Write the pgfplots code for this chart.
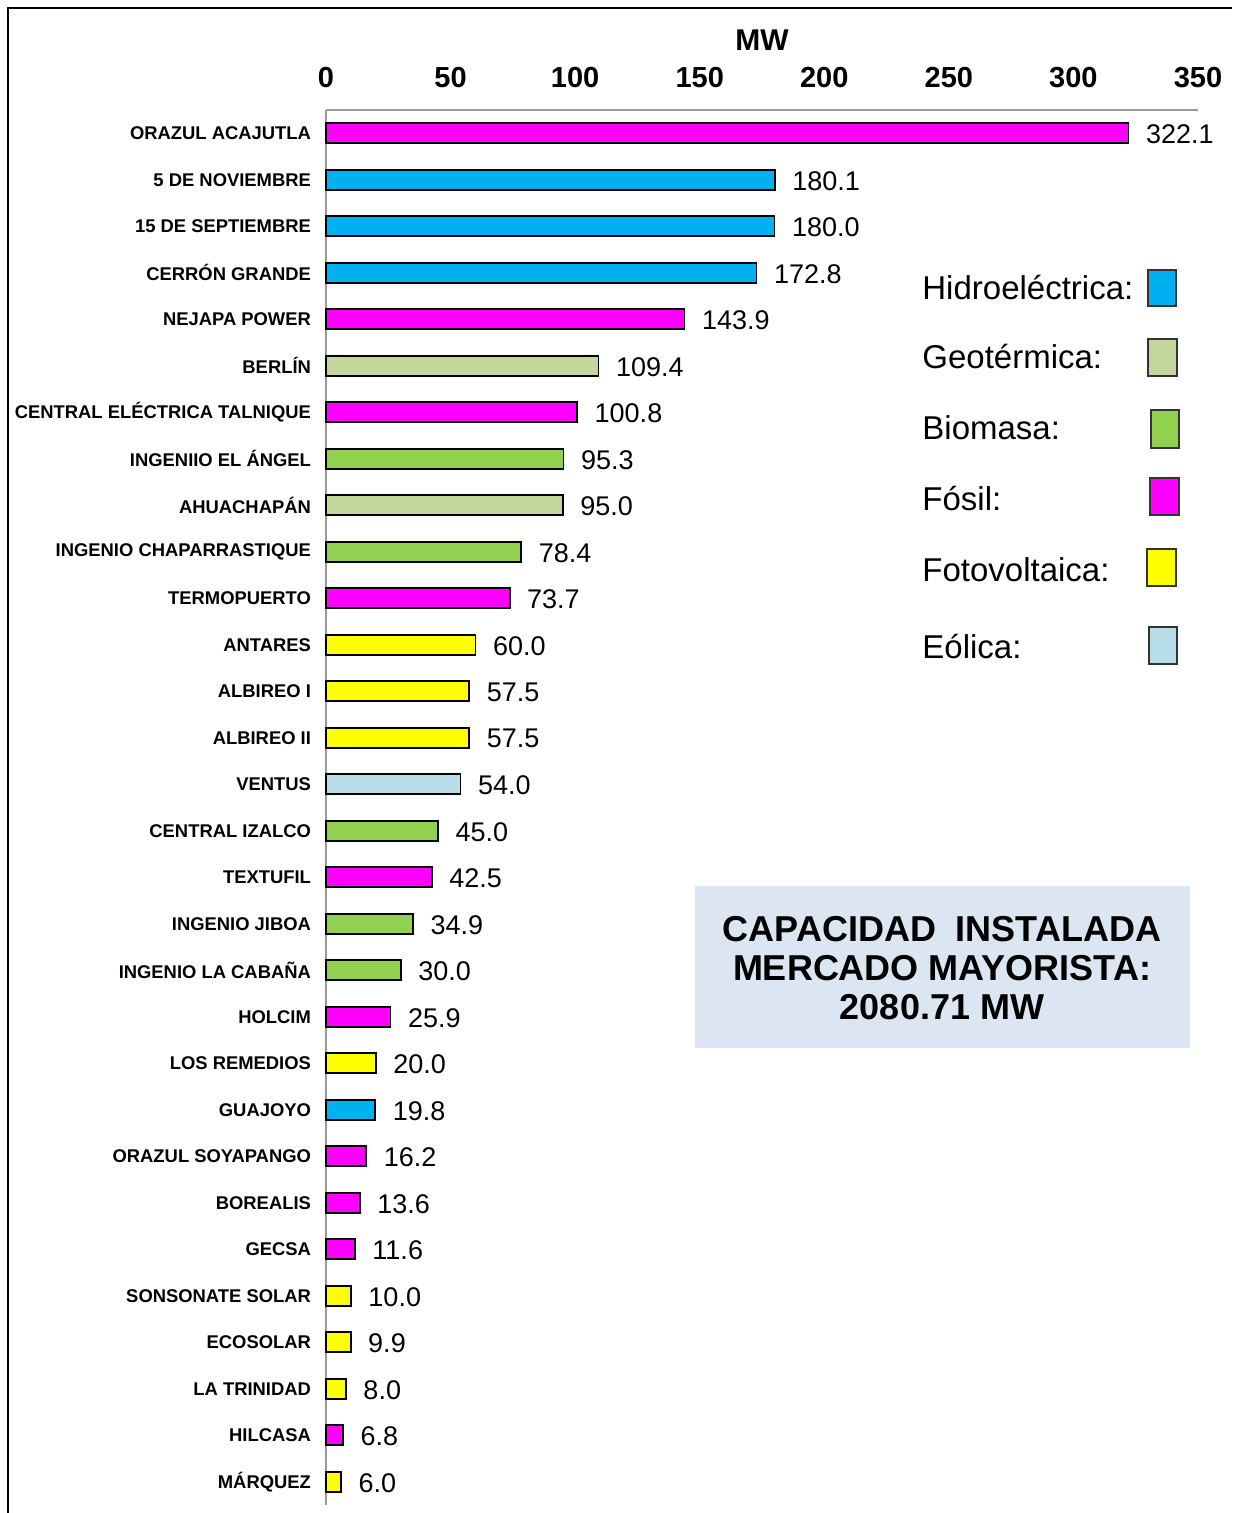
\documentclass[border=0pt]{standalone}
\usepackage{pgfplots}
\pgfplotsset{compat=1.18}
\usepackage{fontspec}
\setmainfont{Liberation Sans}
\definecolor{hid}{HTML}{00B0F0}
\definecolor{geo}{HTML}{C3D69B}
\definecolor{bio}{HTML}{92D050}
\definecolor{fos}{HTML}{FF00FF}
\definecolor{pv}{HTML}{FFFF00}
\definecolor{eol}{HTML}{B7DEE8}
\definecolor{boxc}{HTML}{DCE6F2}
\definecolor{axg}{HTML}{9A9A9A}
\begin{document}
\begin{tikzpicture}
\begin{scope}[x=0.5pt,y=-0.5pt]
\useasboundingbox (0,0) rectangle (1232,1513);
\draw[line width=0.8pt] (8,1513) -- (8,8) -- (1232,8);
\end{scope}
\begin{axis}[at={(163pt,-55pt)}, anchor=north west, scale only axis,
  width=436pt, height=697.5pt,
  xmin=0, xmax=350, ymin=-0.5, ymax=29.5,
  xbar, bar width=10pt, bar shift=0pt,
  axis x line*=top, axis y line*=left,
  axis line style={-, axg, line width=0.8pt},
  xtick={0,50,...,350}, ytick={0,...,29},
  yticklabels={MÁRQUEZ, HILCASA, LA TRINIDAD, ECOSOLAR, SONSONATE SOLAR, GECSA, BOREALIS, ORAZUL SOYAPANGO, GUAJOYO, LOS REMEDIOS, HOLCIM, INGENIO LA CABAÑA, INGENIO JIBOA, TEXTUFIL, CENTRAL IZALCO, VENTUS, ALBIREO II, ALBIREO I, ANTARES, TERMOPUERTO, INGENIO CHAPARRASTIQUE, AHUACHAPÁN, INGENIIO EL ÁNGEL, CENTRAL ELÉCTRICA TALNIQUE, BERLÍN, NEJAPA POWER, CERRÓN GRANDE, 15 DE SEPTIEMBRE, 5 DE NOVIEMBRE, ORAZUL ACAJUTLA},
  major tick length=0pt,
  /pgf/number format/assume math mode=true,
  xticklabel style={font=\fontsize{14.5}{16}\selectfont\bfseries, yshift=7.5pt},
  yticklabel style={font=\fontsize{9.2}{11}\selectfont\bfseries, xshift=-4pt},
  nodes near coords,
  every node near coord/.append style={font=\fontsize{13.5}{15}\selectfont,
    /pgf/number format/fixed, /pgf/number format/fixed zerofill,
    /pgf/number format/precision=1, xshift=5pt, yshift=-0.5pt},
  clip=false,
]
\addplot[fill=fos, draw=black, line width=0.9pt] coordinates {(322.1,29) (143.9,25) (100.8,23) (73.7,19) (42.5,13) (25.9,10) (16.2,7) (13.6,6) (11.6,5) (6.8,1)};
\addplot[fill=hid, draw=black, line width=0.9pt] coordinates {(180.1,28) (180.0,27) (172.8,26) (19.8,8)};
\addplot[fill=geo, draw=black, line width=0.9pt] coordinates {(109.4,24) (95.0,21)};
\addplot[fill=bio, draw=black, line width=0.9pt] coordinates {(95.3,22) (78.4,20) (45.0,14) (34.9,12) (30.0,11)};
\addplot[fill=pv, draw=black, line width=0.9pt] coordinates {(60.0,18) (57.5,17) (57.5,16) (20.0,9) (10.0,4) (9.9,3) (8.0,2) (6.0,0)};
\addplot[fill=eol, draw=black, line width=0.9pt] coordinates {(54.0,15)};
\end{axis}
\begin{scope}[x=0.5pt,y=-0.5pt]
\node[font=\fontsize{15}{17}\selectfont\bfseries] at (762,40) {MW};
\begin{scope}[every node/.style={anchor=west, font=\fontsize{16.5}{18}\selectfont, inner sep=0pt}]
\node at (922,288) {Hidroeléctrica:};
\node at (922,357) {Geotérmica:};
\node at (922,428) {Biomasa:};
\node at (922,499) {Fósil:};
\node at (922,570) {Fotovoltaica:};
\node at (922,647) {Eólica:};
\end{scope}
\begin{scope}[draw=black!80, line width=0.7pt]
\filldraw[fill=hid] (1148,270) rectangle (1176,306);
\filldraw[fill=geo] (1148,339) rectangle (1177,376);
\filldraw[fill=bio] (1151,410) rectangle (1179,448);
\filldraw[fill=fos] (1150,478) rectangle (1179,515);
\filldraw[fill=pv] (1147,549) rectangle (1176,586);
\filldraw[fill=eol] (1149,627) rectangle (1177,664);
\end{scope}
\fill[boxc] (695,886) rectangle (1190,1048);
\node[align=center, font=\fontsize{18}{19.3}\selectfont\bfseries] at (942,968) {CAPACIDAD\ \ INSTALADA\\MERCADO MAYORISTA:\\2080.71 MW};
\end{scope}
\end{tikzpicture}
\end{document}
